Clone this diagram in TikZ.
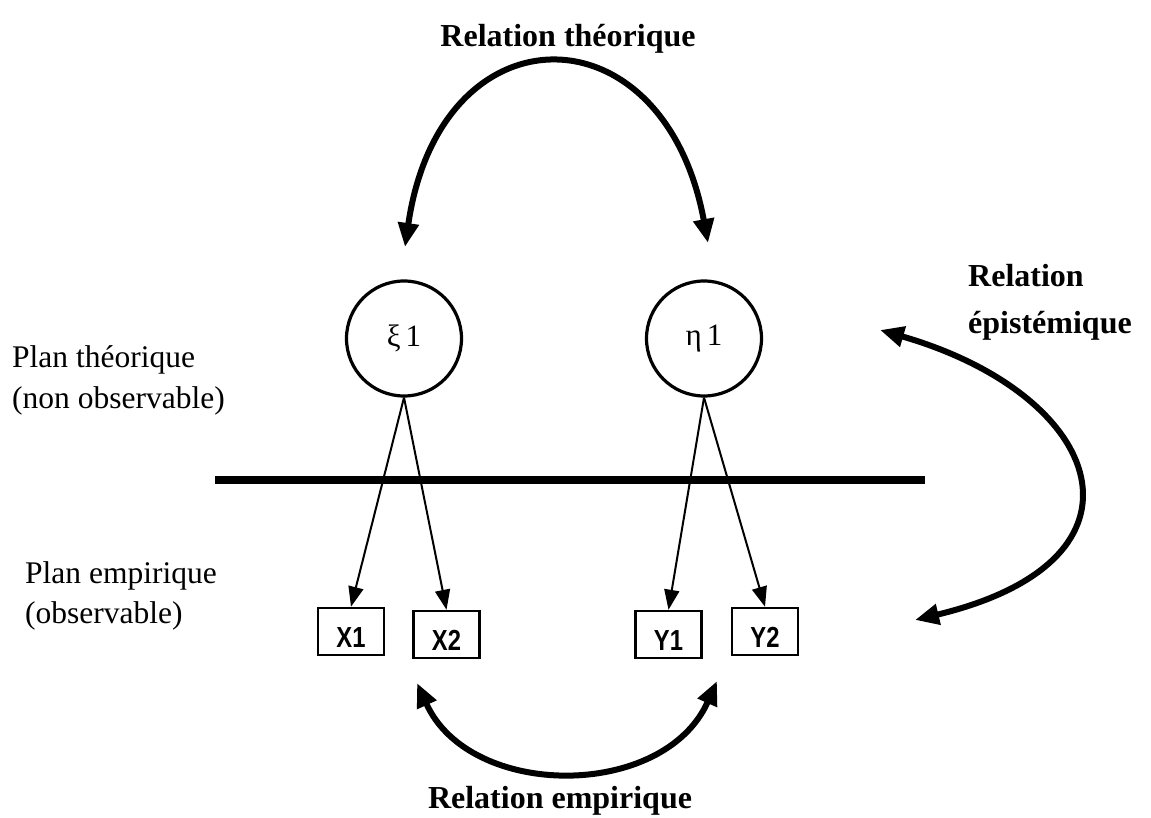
\documentclass[tikz,border=0pt]{standalone}
\usepackage{fontspec}
\setmainfont{Liberation Serif}
\newfontfamily\boxfont[FakeStretch=0.82]{Liberation Sans}
\usetikzlibrary{arrows.meta}
\begin{document}
\begin{tikzpicture}[x=1pt,y=-1pt,
  latent/.style={circle,draw,line width=3.2pt,minimum size=115pt,inner sep=0pt,
    font=\fontsize{31}{34}\selectfont},
  manifest/.style={rectangle,draw,line width=2.5pt,minimum width=66pt,minimum height=47pt,
    inner sep=0pt,text height=31pt,text depth=0pt,
    font=\boxfont\bfseries\fontsize{29}{30}\selectfont},
  lbl/.style={inner sep=0pt,font=\fontsize{31.5}{34}\selectfont},
  rel/.style={inner sep=0pt,font=\bfseries\fontsize{32}{34}\selectfont},
  load/.style={line width=2pt,-{Triangle[length=20pt,width=15pt]}},
  bigarc/.style={line width=6pt,{Triangle[length=24pt,width=20pt]}-{Triangle[length=24pt,width=20pt]}},
  sep/.style={line width=8pt}]
\useasboundingbox (0,0) rectangle (1151,818);

% latent variables
\node[latent] (xi) at (404,338.5) {ξ\,1};
\node[latent] (eta) at (704,338.5) {η\,1};

% observed indicators
\node[manifest] (x1) at (351,631.5) {X1};
\node[manifest] (x2) at (446.5,634.5) {X2};
\node[manifest] (y1) at (668.5,634.5) {Y1};
\node[manifest] (y2) at (765,631.5) {Y2};

% separating line
\coordinate (sepL) at (215,480);
\coordinate (sepR) at (925,480);
\draw[sep] (sepL) -- (sepR);

% loadings
\draw[load] (xi.south) -- (x1.north);
\draw[load] (xi.south) -- (x2.north);
\draw[load] (eta.south) -- (y1.north);
\draw[load] (eta.south) -- (y2.north);

% labels
\node[lbl,anchor=base west] (pt1) at (12,367) {Plan théorique};
\node[lbl,anchor=base west] (pt2) at (12,408) {(non observable)};
\node[lbl,anchor=base west] (pe1) at (25,583) {Plan empirique};
\node[lbl,anchor=base west] (pe2) at (25,623) {(observable)};

\node[rel,anchor=base] (rt) at (568,47) {Relation théorique};
\node[rel,anchor=base] (re) at (560,808) {Relation empirique};
\node[rel,anchor=base west] (rep1) at (968,287) {Relation};
\node[rel,anchor=base west] (rep2) at (968,333) {épistémique};

% relation arcs
\coordinate (tA) at (405,247);
\coordinate (tB) at (708,243);
\draw[bigarc] (tA) .. controls (440,5) and (664,5) .. (tB);

\coordinate (eA) at (417,683);
\coordinate (eB) at (717,681);
\draw[bigarc] (eA) .. controls (470,800) and (664,800) .. (eB);

\coordinate (pA) at (880,330);
\coordinate (pB) at (915,620);
\draw[bigarc] (pA) .. controls (1105,395) and (1165,560) .. (pB);
\end{tikzpicture}
\end{document}
